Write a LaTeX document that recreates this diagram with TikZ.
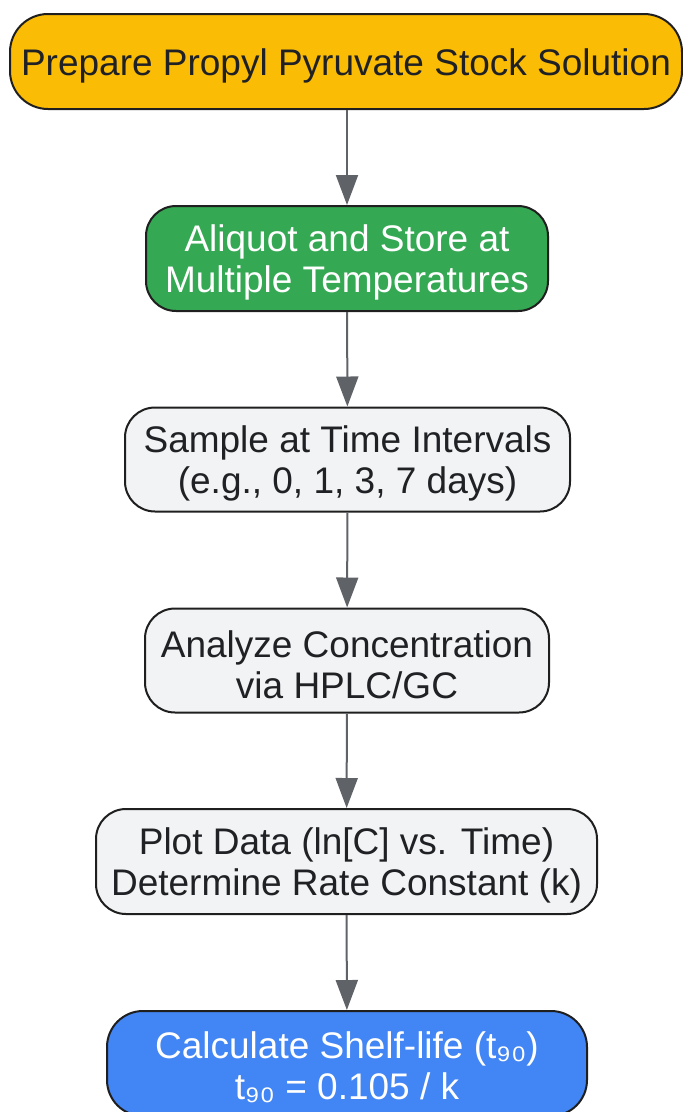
\documentclass[tikz,border=0pt]{standalone}
\usepackage{fontspec}
\setmainfont{Liberation Sans}
\usetikzlibrary{arrows.meta}
\definecolor{cyellow}{HTML}{FBBC05}
\definecolor{cgreen}{HTML}{34A853}
\definecolor{cgray}{HTML}{F1F3F4}
\definecolor{cblue}{HTML}{4285F4}
\definecolor{cline}{HTML}{5F6368}
\definecolor{ctext}{HTML}{202124}
\definecolor{cborder}{HTML}{1F1F1F}
\tikzset{
  box/.style={draw=cborder, line width=2pt, rounded corners=30pt, inner sep=0pt},
  txt/.style={align=center, inner sep=0pt, font=\fontsize{37pt}{41pt}\selectfont, text=ctext},
  conn/.style={draw=cline, line width=2pt, -{Triangle[length=30pt,width=22pt]}}
}
\begin{document}
\begin{tikzpicture}[x=1pt,y=-1pt]
\useasboundingbox (0,0) rectangle (683,1112);
\node[box, fill=cyellow, rounded corners=38pt, minimum width=672pt, minimum height=95pt] (n1) at (346,61.5) {};
\node[txt] (t1) at ([yshift=-4pt]n1.center) {Prepare Propyl Pyruvate Stock Solution};
\node[box, fill=cgreen, minimum width=402pt, minimum height=105pt] (n2) at (347,258.5) {};
\node[txt, text=white] (t2) at ([yshift=-4pt]n2.center) {Aliquot and Store at\\Multiple Temperatures};
\node[box, fill=cgray, minimum width=445pt, minimum height=104pt] (n3) at (347.5,459.5) {};
\node[txt] (t3) at ([yshift=-4pt]n3.center) {Sample at Time Intervals\\(e.g., 0, 1, 3, 7 days)};
\node[box, fill=cgray, minimum width=404pt, minimum height=104pt] (n4) at (347,660.5) {};
\node[txt] (t4) at ([yshift=-4pt]n4.center) {Analyze Concentration\\via HPLC/GC};
\node[box, fill=cgray, minimum width=501pt, minimum height=105pt] (n5) at (346.5,861.5) {};
\node[txt] (t5) at ([yshift=-4pt]n5.center) {Plot Data (ln[C] vs. Time)\\Determine Rate Constant (k)};
\node[box, fill=cblue, rounded corners=36pt, minimum width=480pt, minimum height=105pt] (n6) at (347,1063.5) {};
\node[txt, text=white] (t6) at ([yshift=-4pt]n6.center) {Calculate Shelf-life (t₉₀)\\t₉₀ = 0.105 / k};
\draw[conn] (n1.south -| 347,0) -- (347,0 |- n2.north);
\draw[conn] (n2) -- (n3);
\draw[conn] (n3) -- (n4);
\draw[conn] (n4) -- (n5);
\draw[conn] (n5) -- (n6);
\end{tikzpicture}
\end{document}
